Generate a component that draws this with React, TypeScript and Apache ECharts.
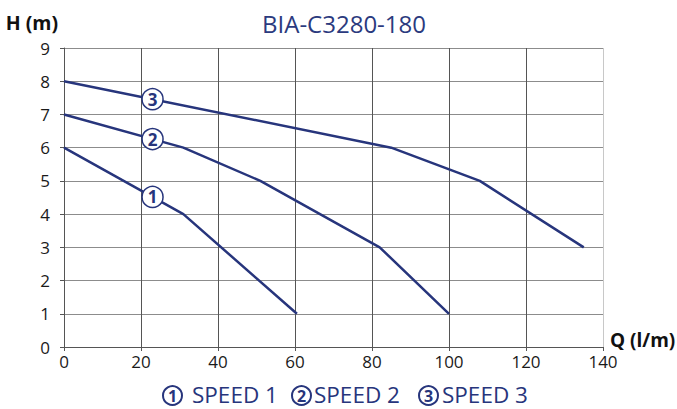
import React, { useEffect, useRef } from "react";
import * as echarts from "echarts";

const title = "BIA-C3280-180";
const seriesNames = ["SPEED 1", "SPEED 2", "SPEED 3"];
const speed1Q = [0, 31, 60.5];
const speed1H = [6, 4, 1];
const speed2Q = [0, 31, 51, 82, 100];
const speed2H = [7, 6, 5, 3, 1];
const speed3Q = [0, 85, 108, 135];
const speed3H = [8, 6, 5, 3];
const badgeQ = 23;
const xTicks = { min: 0, max: 140, interval: 20 };
const yTicks = { min: 0, max: 9, interval: 1 };

const NAVY = "#27357c";
const FONT = "'Open Sans', 'Noto Sans', sans-serif";

// legend layout (pixels): circle centre x, text left x
const legendCircleX = [172.5, 301.5, 428.5];
const legendTextX = [192, 314, 442];
const legendY = 394.5;

function pairs(q: number[], h: number[]) {
  return q.map((v, i) => [v, h[i]]);
}
function interp(q: number[], h: number[], x: number) {
  for (let i = 0; i < q.length - 1; i++) {
    if (x >= q[i] && x <= q[i + 1]) {
      return h[i] + ((h[i + 1] - h[i]) * (x - q[i])) / (q[i + 1] - q[i]);
    }
  }
  return h[h.length - 1];
}

export default function App() {
  const ref = useRef<HTMLDivElement>(null);
  useEffect(() => {
    const chart = echarts.init(ref.current!, undefined, { renderer: "svg" });
    const all = [
      [speed1Q, speed1H],
      [speed2Q, speed2H],
      [speed3Q, speed3H],
    ];
    const nXLines = (xTicks.max - xTicks.min) / xTicks.interval + 1;
    const vColors = Array.from({ length: nXLines }, (_, i) =>
      i === nXLines - 1 ? "#c8c8c8" : "#555555"
    );
    const legendGraphics: any[] = [];
    seriesNames.forEach((name, i) => {
      legendGraphics.push({
        type: "circle",
        shape: { cx: legendCircleX[i], cy: legendY + 1, r: 9.5 },
        style: { fill: "#ffffff", stroke: NAVY, lineWidth: 2 },
        silent: true,
      });
      legendGraphics.push({
        type: "text",
        x: legendCircleX[i],
        y: legendY + 1.5,
        style: {
          text: String(i + 1),
          fill: NAVY,
          font: `bold 16px ${FONT}`,
          align: "center",
          verticalAlign: "middle",
        },
        silent: true,
      });
      legendGraphics.push({
        type: "text",
        x: legendTextX[i],
        y: legendY,
        style: {
          text: name,
          fill: NAVY,
          font: `22.5px ${FONT}`,
          align: "left",
          verticalAlign: "middle",
        },
        silent: true,
      });
    });
    chart.setOption({
      animation: false,
      textStyle: { fontFamily: FONT },
      title: {
        text: title,
        left: 262,
        top: 11,
        padding: 0,
        textStyle: { fontFamily: FONT, fontSize: 24, fontWeight: "normal", color: "#2b3a7e" },
      },
      grid: { left: 64, right: 74, top: 48, bottom: 62, containLabel: false, outerBoundsMode: "none" },
      graphic: legendGraphics,
      xAxis: {
        type: "value",
        min: xTicks.min,
        max: xTicks.max,
        interval: xTicks.interval,
        name: "Q (l/m)",
        nameLocation: "end",
        nameGap: 7,
        nameTextStyle: {
          fontFamily: FONT,
          fontSize: 19,
          fontWeight: "bold",
          color: "#111",
          verticalAlign: "bottom",
          lineHeight: 14,
        },
        axisLine: { show: true, lineStyle: { color: "#555", width: 1 } },
        axisTick: { show: true, length: 4, lineStyle: { color: "#555" } },
        axisLabel: { margin: 6, fontSize: 17, color: "#1a1a1a", fontFamily: FONT },
        splitLine: { show: true, lineStyle: { color: vColors, width: 1 } },
      },
      yAxis: {
        type: "value",
        min: yTicks.min,
        max: yTicks.max,
        interval: yTicks.interval,
        name: "H (m)",
        nameLocation: "end",
        nameGap: 16,
        nameTextStyle: {
          fontFamily: FONT,
          fontSize: 19.5,
          fontWeight: "bold",
          color: "#111",
          align: "right",
          padding: [0, 6, 0, 0],
        },
        axisLine: { show: true, lineStyle: { color: "#555", width: 1 } },
        axisTick: { show: true, length: 4, lineStyle: { color: "#555" } },
        axisLabel: { margin: 14, fontSize: 17, color: "#1a1a1a", fontFamily: FONT },
        splitLine: { show: true, lineStyle: { color: "#8c8c8c", width: 1 } },
      },
      series: all.map(([q, h], i) => ({
        name: seriesNames[i],
        type: "line",
        data: pairs(q, h),
        symbol: "none",
        lineStyle: { color: NAVY, width: 2.5 },
        itemStyle: { color: NAVY },
        markPoint: {
          symbol: "circle",
          symbolSize: 21,
          itemStyle: { color: "#ffffff", borderColor: NAVY, borderWidth: 1.5 },
          label: {
            show: true,
            position: "inside",
            formatter: String(i + 1),
            fontFamily: FONT,
            fontWeight: "bold",
            fontSize: 17,
            color: NAVY,
          },
          data: [{ coord: [badgeQ, interp(q, h, badgeQ)] }],
        },
      })),
    });
    return () => chart.dispose();
  }, []);
  return <div ref={ref} style={{ width: 677, height: 409, position: "absolute", left: 0, top: 0 }} />;
}
